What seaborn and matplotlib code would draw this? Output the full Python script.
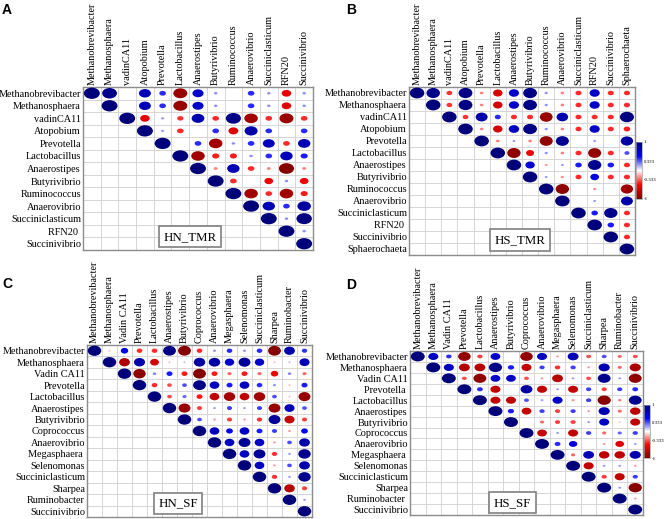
import numpy as np
import pandas as pd
import seaborn as sns
import matplotlib.pyplot as plt
from matplotlib.path import Path
from matplotlib.colors import LinearSegmentedColormap, Normalize
from matplotlib.cm import ScalarMappable

# taxa per panel
tmr_hn_taxa = ['Methanobrevibacter', 'Methanosphaera', 'vadinCA11', 'Atopobium', 'Prevotella',
               'Lactobacillus', 'Anaerostipes', 'Butyrivibrio', 'Ruminococcus', 'Anaerovibrio',
               'Succiniclasticum', 'RFN20', 'Succinivibrio']
tmr_hs_taxa = ['Methanobrevibacter', 'Methanosphaera', 'vadinCA11', 'Atopobium', 'Prevotella',
               'Lactobacillus', 'Anaerostipes', 'Butyrivibrio', 'Ruminococcus', 'Anaerovibrio',
               'Succiniclasticum', 'RFN20', 'Succinivibrio', 'Sphaerochaeta']
sf_taxa = ['Methanobrevibacter', 'Methanosphaera', 'Vadin CA11', 'Prevotella', 'Lactobacillus',
           'Anaerostipes', 'Butyrivibrio', 'Coprococcus', 'Anaerovibrio', 'Megasphaera',
           'Selenomonas', 'Succiniclasticum', 'Sharpea', 'Ruminobacter', 'Succinivibrio']

# upper triangle of each correlation matrix, row i holds columns i..n-1 (0 = blank)
hn_tmr = [
    [1, 0.93, 0, 0.75, 0.42, -0.88, 0.7, 0.22, 0, 0.42, 0.22, -0.6, 0.22],
    [1, 0, 0.75, 0.42, -0.88, 0.7, 0.22, 0, 0.42, 0.22, -0.6, 0.22],
    [1, -0.6, 0.2, -0.4, 0.8, -0.42, 0.95, -0.85, -0.42, -0.88, -0.42],
    [1, 0.2, -0.42, 0, 0.42, -0.62, 0.82, 0.42, 0, 0.42],
    [1, 0, 0.42, -0.85, 0.22, 0.42, 0.75, -0.42, 0.78],
    [1, -0.85, -0.45, -0.45, 0.22, 0.42, 0.78, 0.45],
    [1, -0.25, 0.78, -0.42, -0.25, -0.95, -0.25],
    [1, -0.42, 0, -0.55, 0.22, -0.55],
    [1, -0.85, -0.42, -0.85, -0.45],
    [1, 0.78, 0.42, 0.85],
    [1, 0.22, 0.97],
    [1, 0.22],
    [1],
]
hs_tmr = [
    [1, 0.93, -0.4, 0.95, -0.25, -0.65, 0.7, 0.95, 0.22, -0.25, -0.42, 0.7, -0.42, -0.42],
    [1, -0.4, 0.95, -0.25, -0.65, 0.7, 0.95, 0.22, -0.25, -0.42, 0.7, -0.42, -0.42],
    [1, -0.4, 0.82, 0.42, -0.42, -0.42, -0.88, 0.8, -0.42, -0.42, -0.42, 0.97],
    [1, -0.25, -0.65, 0.72, 0.95, 0.22, -0.25, -0.42, 0.7, -0.42, -0.45],
    [1, -0.25, 0.2, -0.25, -0.9, 0.9, 0, 0.2, 0, 0.85],
    [1, -0.92, -0.55, 0.22, -0.25, -0.42, -0.9, -0.42, 0.35],
    [1, 0.65, -0.2, 0.2, 0.45, 0.92, 0.45, -0.42],
    [1, 0.2, -0.22, -0.42, 0.6, -0.42, -0.42],
    [1, -0.92, 0, -0.22, 0, -0.85],
    [1, 0, 0.2, 0, 0.82],
    [1, 0.45, 0.92, -0.42],
    [1, 0.45, -0.42],
    [1, -0.42],
    [1],
]
hn_sf = [
    [1, -0.15, 0.55, -0.42, -0.42, 0.95, -0.95, -0.42, 0.22, 0.42, 0.22, 0.42, -0.95, 0.8, 0.4],
    [1, -0.8, 0.82, -0.65, -0.15, 0.15, 0.85, 0.85, 0.7, 0.88, 0.7, -0.15, 0.15, 0.75],
    [1, -0.92, 0.25, 0.45, -0.45, -0.95, -0.45, -0.3, -0.45, -0.3, -0.55, 0.25, -0.3],
    [1, -0.42, -0.35, 0.35, 0.95, 0.72, 0.45, 0.72, 0.42, 0.22, -0.15, 0.45],
    [1, -0.35, 0.3, -0.45, -0.72, -0.85, -0.72, -0.85, 0.35, -0.15, -0.88],
    [1, -0.88, -0.38, 0.2, 0.38, 0.2, 0.38, -0.88, 0.75, 0.35],
    [1, 0.35, -0.2, -0.38, -0.2, -0.4, 0.88, -0.75, -0.38],
    [1, 0.72, 0.5, 0.72, 0.45, 0.38, -0.2, 0.5],
    [1, 0.72, 0.88, 0.72, -0.2, 0.35, 0.8],
    [1, 0.72, 0.88, -0.4, 0.2, 0.92],
    [1, 0.72, -0.2, 0.35, 0.8],
    [1, -0.4, 0.2, 0.92],
    [1, -0.78, -0.38],
    [1, 0.2],
    [1],
]
hs_sf = [
    [1, 0.72, 0.4, -0.9, -0.38, 0.7, 0, -0.9, 0.72, -0.2, 0.78, -0.35, 0.35, -0.3, -0.35],
    [1, 0.72, -0.78, -0.78, 0.95, 0.45, -0.72, 0.38, -0.4, 0.38, -0.2, 0.8, -0.3, -0.8],
    [1, -0.35, -0.92, 0.7, 0.7, -0.35, -0.2, -0.78, 0.2, -0.35, 0.92, 0.2, -0.92],
    [1, 0.42, -0.72, 0, 0.85, -0.72, 0.2, -0.72, 0.38, -0.38, 0.38, 0.42],
    [1, -0.72, -0.72, 0.35, 0.2, 0.72, -0.22, 0.38, -0.95, -0.25, 0.92],
    [1, 0.45, -0.7, 0.38, -0.38, 0.38, -0.2, 0.8, -0.3, -0.75],
    [1, 0, -0.3, -0.38, -0.38, 0.2, 0.72, -0.15, -0.72],
    [1, -0.7, 0.2, -0.72, 0.38, -0.3, 0.3, 0.38],
    [1, 0.42, 0.6, 0, -0.2, -0.62, 0.2],
    [1, -0.3, 0.78, -0.75, -0.75, 0.8],
    [1, -0.72, 0.2, 0.2, -0.2],
    [1, -0.38, -0.72, 0.38],
    [1, 0.2, -0.95],
    [1, -0.2],
    [1],
]

W, H = 666, 519
plt.rcParams['font.family'] = ['Liberation Serif', 'DejaVu Serif']
cmap = LinearSegmentedColormap.from_list(
    'rwb', ['#7a0000', '#ff0000', '#ffffff', '#0000ff', '#00007a'])

fig = plt.figure(figsize=(W / 100, H / 100), dpi=100)


def corr_frame(upper):
    rows = []
    for i, vals in enumerate(upper):
        for k, v in enumerate(vals):
            if v != 0:
                rows.append({'row': i + 0.5, 'col': i + k + 0.5, 'r': v, 'area': v * v})
    return pd.DataFrame(rows)


def draw_panel(box, taxa, upper, tag, tag_xy, pad_rows=()):
    left, top, right, bottom = box
    ax = fig.add_axes([left / W, 1 - bottom / H, (right - left) / W, (bottom - top) / H])
    n = len(taxa)
    cw = (right - left) / n
    ch = (bottom - top) / n
    circ = Path.unit_circle()
    marker = Path(circ.vertices * [1, ch / cw], circ.codes)
    smax = (0.9 * cw * 0.72) ** 2

    for k in range(n + 1):
        ax.axhline(k, color='#d0d0d0', lw=0.6, zorder=0)
        ax.axvline(k, color='#d0d0d0', lw=0.6, zorder=0)

    sns.scatterplot(data=corr_frame(upper), x='col', y='row', hue='r', size='area',
                    palette=cmap, hue_norm=(-1, 1), sizes=(0, smax), size_norm=(0, 1),
                    marker=marker, linewidth=0, legend=False, ax=ax, zorder=3)

    ax.set_xlim(0, n)
    ax.set_ylim(n, 0)
    ax.set_xlabel('')
    ax.set_ylabel('')
    ax.xaxis.tick_top()
    ax.set_xticks(np.arange(n) + 0.5)
    ax.set_xticklabels(taxa, rotation=90)
    ax.set_yticks(np.arange(n) + 0.5)
    ax.set_yticklabels([t + ' ' if t in pad_rows else t for t in taxa])
    ax.tick_params(length=0, pad=1.5, labelsize=7.4)
    for s in ax.spines.values():
        s.set_color('#8c8c8c')
        s.set_linewidth(1)

    ax.text(tag_xy[0], tag_xy[1], tag, ha='center', va='center', fontsize=9.3, zorder=5,
            bbox=dict(boxstyle='square,pad=0.35', fc='white', ec='#808080', lw=1.2))
    return ax


def add_colorbar(box):
    left, top, right, bottom = box
    cax = fig.add_axes([left / W, 1 - bottom / H, (right - left) / W, (bottom - top) / H])
    cb = fig.colorbar(ScalarMappable(norm=Normalize(-1, 1), cmap=cmap), cax=cax)
    cb.set_ticks([-1, -0.333, 0.333, 1])
    cb.set_ticklabels(['-1', '-0.333', '0.333', '1'])
    cb.ax.tick_params(length=0, pad=1, labelsize=3.5)
    cb.outline.set_edgecolor('#a0a0a0')
    cb.outline.set_linewidth(0.5)


draw_panel((83, 87, 313, 250), tmr_hn_taxa, hn_tmr, 'HN_TMR', (6.05, 11.95), pad_rows=('RFN20',))
draw_panel((409, 87, 635, 255), tmr_hs_taxa, hs_tmr, 'HS_TMR', (6.9, 12.75), pad_rows=('RFN20',))
draw_panel((87, 345, 312, 517), sf_taxa, hn_sf, 'HN_SF', (6.07, 13.8), pad_rows=('Megasphaera',))
draw_panel((410, 351, 643, 515), sf_taxa, hs_sf, 'HS_SF', (6.6, 13.9),
           pad_rows=('Prevotella', 'Megasphaera', 'Ruminobacter'))

add_colorbar((636, 142, 642, 199))
add_colorbar((644, 405, 650, 458))

for letter, (x, y) in zip('ABCD', [(2, 3), (346, 3), (2, 277), (346, 278)]):
    fig.text(x / W, 1 - y / H, letter, fontsize=10, fontweight='bold',
             family='Liberation Sans', ha='left', va='top')

fig.savefig('out.png', dpi=100)
